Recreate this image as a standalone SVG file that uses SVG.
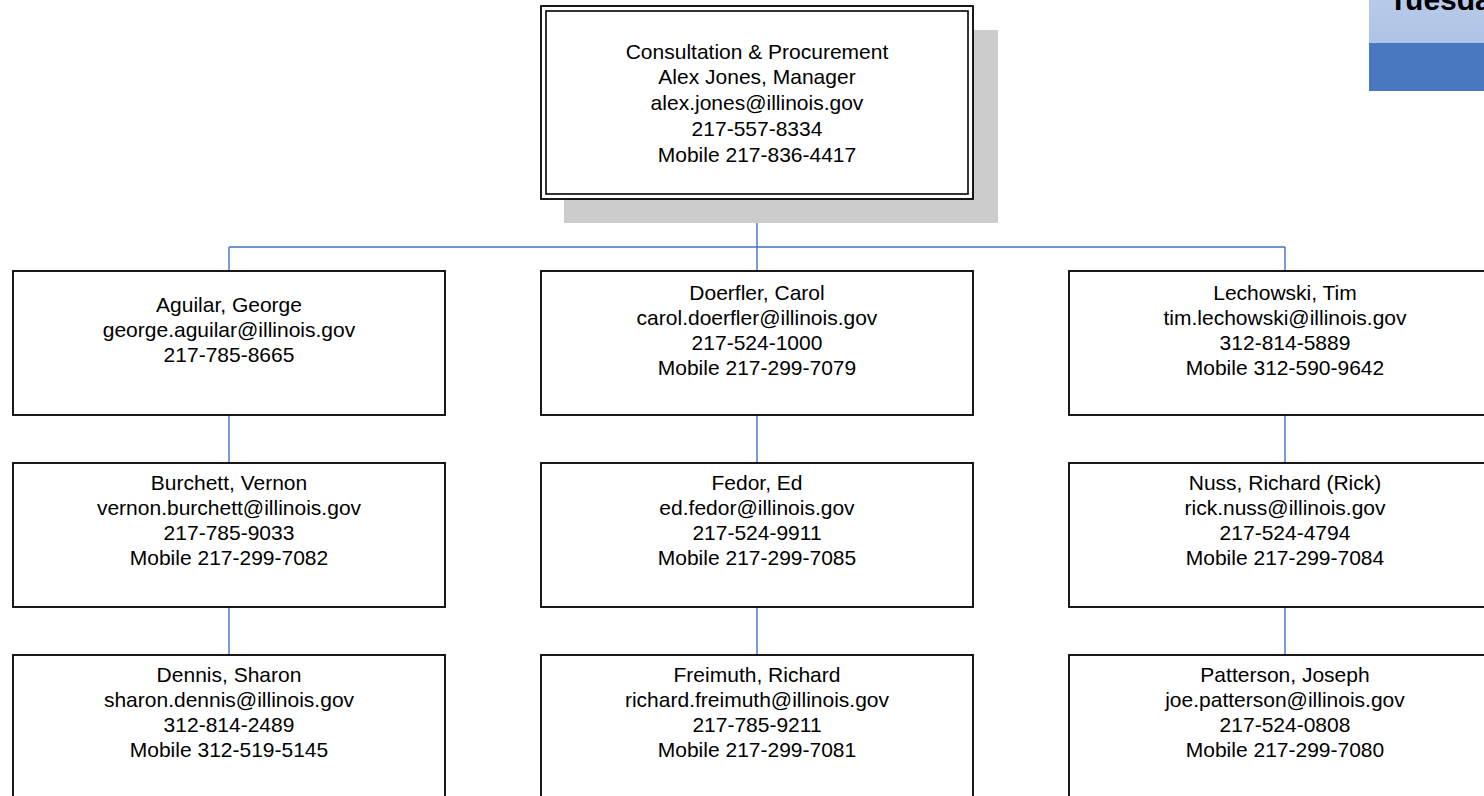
<svg xmlns="http://www.w3.org/2000/svg" width="1484" height="796" viewBox="0 0 1484 796">
  <defs>
    <linearGradient id="hdr" x1="0" y1="0" x2="0" y2="1">
      <stop offset="0" stop-color="#b8cae9"/>
      <stop offset="1" stop-color="#aec3e5"/>
    </linearGradient>
  </defs>
  <style>
    .box { fill: #ffffff; stroke: #000000; stroke-width: 1.8; }
    .conn { fill: none; stroke: #4472c4; stroke-width: 1.4; }
    text { font-family: "Liberation Sans", Arial, sans-serif; font-size: 21px; fill: #000000; text-anchor: middle; }
    .title { font-weight: bold; font-size: 30px; text-anchor: start; fill: #000000; }
  </style>

  <!-- header fragment, top right -->
  <g id="header">
    <rect x="1369" y="0" width="115" height="43" fill="url(#hdr)"/>
    <rect x="1369" y="43" width="115" height="48" fill="#4a78c0"/>
    <text class="title" x="1389" y="10">Tuesda</text>
  </g>

  <g id="connectors">
    <path class="conn" d="M757 199 V247 M229 247 H1285 M229 247 V271 M757 247 V271 M1285 247 V271"/>
    <path class="conn" d="M229 415 V463 M757 415 V463 M1285 415 V463"/>
    <path class="conn" d="M229 607 V655 M757 607 V655 M1285 607 V655"/>
  </g>

  <g id="manager">
    <rect x="564" y="30" width="434" height="193" fill="#cccccc"/>
    <rect class="box" x="541" y="6" width="432" height="193"/>
    <rect x="546" y="11" width="422" height="183" fill="none" stroke="#000" stroke-width="1.6"/>
    <text x="757" y="58.5">Consultation &amp; Procurement</text>
    <text x="757" y="84.3">Alex Jones, Manager</text>
    <text x="757" y="110.1">alex.jones@illinois.gov</text>
    <text x="757" y="135.9">217-557-8334</text>
    <text x="757" y="161.7">Mobile 217-836-4417</text>
  </g>

  <g id="aguilar">
    <rect class="box" x="13" y="271" width="432" height="144"/>
    <text x="229" y="311.7">Aguilar, George</text>
    <text x="229" y="336.7">george.aguilar@illinois.gov</text>
    <text x="229" y="361.7">217-785-8665</text>
  </g>

  <g id="doerfler">
    <rect class="box" x="541" y="271" width="432" height="144"/>
    <text x="757" y="299.5">Doerfler, Carol</text>
    <text x="757" y="324.5">carol.doerfler@illinois.gov</text>
    <text x="757" y="349.5">217-524-1000</text>
    <text x="757" y="374.5">Mobile 217-299-7079</text>
  </g>

  <g id="lechowski">
    <rect class="box" x="1069" y="271" width="432" height="144"/>
    <text x="1285" y="299.5">Lechowski, Tim</text>
    <text x="1285" y="324.5">tim.lechowski@illinois.gov</text>
    <text x="1285" y="349.5">312-814-5889</text>
    <text x="1285" y="374.5">Mobile 312-590-9642</text>
  </g>

  <g id="burchett">
    <rect class="box" x="13" y="463" width="432" height="144"/>
    <text x="229" y="490.3">Burchett, Vernon</text>
    <text x="229" y="515.3">vernon.burchett@illinois.gov</text>
    <text x="229" y="540.3">217-785-9033</text>
    <text x="229" y="565.3">Mobile 217-299-7082</text>
  </g>

  <g id="fedor">
    <rect class="box" x="541" y="463" width="432" height="144"/>
    <text x="757" y="490.3">Fedor, Ed</text>
    <text x="757" y="515.3">ed.fedor@illinois.gov</text>
    <text x="757" y="540.3">217-524-9911</text>
    <text x="757" y="565.3">Mobile 217-299-7085</text>
  </g>

  <g id="nuss">
    <rect class="box" x="1069" y="463" width="432" height="144"/>
    <text x="1285" y="490.3">Nuss, Richard (Rick)</text>
    <text x="1285" y="515.3">rick.nuss@illinois.gov</text>
    <text x="1285" y="540.3">217-524-4794</text>
    <text x="1285" y="565.3">Mobile 217-299-7084</text>
  </g>

  <g id="dennis">
    <rect class="box" x="13" y="655" width="432" height="144"/>
    <text x="229" y="682.3">Dennis, Sharon</text>
    <text x="229" y="707.3">sharon.dennis@illinois.gov</text>
    <text x="229" y="732.3">312-814-2489</text>
    <text x="229" y="757.3">Mobile 312-519-5145</text>
  </g>

  <g id="freimuth">
    <rect class="box" x="541" y="655" width="432" height="144"/>
    <text x="757" y="682.3">Freimuth, Richard</text>
    <text x="757" y="707.3">richard.freimuth@illinois.gov</text>
    <text x="757" y="732.3">217-785-9211</text>
    <text x="757" y="757.3">Mobile 217-299-7081</text>
  </g>

  <g id="patterson">
    <rect class="box" x="1069" y="655" width="432" height="144"/>
    <text x="1285" y="682.3">Patterson, Joseph</text>
    <text x="1285" y="707.3">joe.patterson@illinois.gov</text>
    <text x="1285" y="732.3">217-524-0808</text>
    <text x="1285" y="757.3">Mobile 217-299-7080</text>
  </g>
</svg>
